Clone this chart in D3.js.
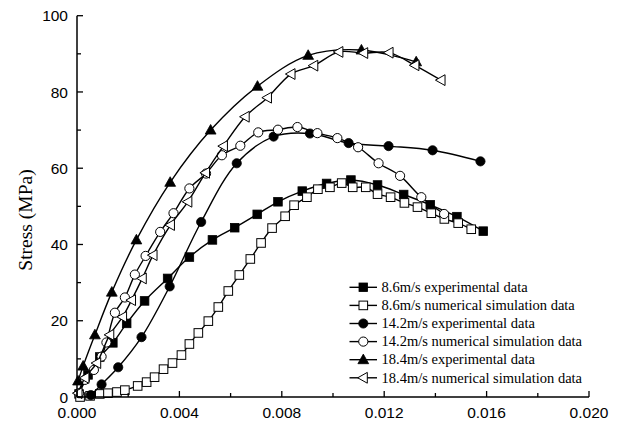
<!DOCTYPE html>
<html>
<head>
<meta charset="utf-8">
<script src="https://cdn.jsdelivr.net/npm/d3@7"></script>
<style>
  body { margin: 0; background: #fff; }
</style>
</head>
<body>
<svg id="chart" width="623" height="423"></svg>
<script>
// strain values (x) and stress values (y, MPa)
const exp86X = [0.00008, 0.00043, 0.00089, 0.00140, 0.00194, 0.00264, 0.00354, 0.00439, 0.00529, 0.00616, 0.00704, 0.00785, 0.00880, 0.00975, 0.01070, 0.01174, 0.01276, 0.01380, 0.01484, 0.01587];
const exp86Y = [0.8, 5.8, 10.5, 14.2, 19.3, 25.2, 31.1, 36.7, 41.2, 44.4, 47.9, 51.2, 54.0, 56.0, 56.9, 55.6, 53.1, 50.4, 47.3, 43.5];

const sim86X = [0.00012, 0.00051, 0.00089, 0.00121, 0.00156, 0.00187, 0.00237, 0.00272, 0.00303, 0.00338, 0.00373, 0.00408, 0.00439, 0.00474, 0.00513, 0.00552, 0.00591, 0.00634, 0.00677, 0.00719, 0.00762, 0.00813, 0.00848, 0.00898, 0.00941, 0.00988, 0.01034, 0.01077, 0.01128, 0.01174, 0.01225, 0.01279, 0.01330, 0.01384, 0.01435, 0.01489, 0.01540];
const sim86Y = [0.0, 0.3, 0.8, 1.0, 1.3, 1.8, 2.9, 3.9, 5.2, 7.3, 8.9, 11.0, 13.9, 16.8, 19.9, 23.6, 27.8, 32.0, 36.2, 40.4, 44.3, 47.4, 50.3, 52.4, 54.5, 55.0, 56.1, 55.0, 55.0, 53.2, 52.4, 50.9, 49.8, 48.2, 46.7, 45.6, 44.0];

const exp142X = [0.00054, 0.00096, 0.00161, 0.00252, 0.00362, 0.00485, 0.00624, 0.00768, 0.00910, 0.01061, 0.01217, 0.01389, 0.01576];
const exp142Y = [0.5, 3.3, 7.8, 15.7, 29.0, 45.9, 61.3, 68.3, 69.1, 66.6, 65.8, 64.7, 61.8];

const sim142X = [0.00008, 0.00031, 0.00066, 0.00096, 0.00115, 0.00148, 0.00187, 0.00226, 0.00268, 0.00325, 0.00377, 0.00439, 0.00504, 0.00566, 0.00638, 0.00708, 0.00785, 0.00861, 0.00939, 0.01017, 0.01098, 0.01178, 0.01262, 0.01345, 0.01434];
const sim142Y = [1.0, 4.5, 7.1, 10.6, 14.3, 22.1, 26.1, 32.1, 37.0, 43.3, 48.2, 54.7, 58.6, 63.4, 65.9, 69.4, 70.1, 70.8, 69.2, 67.9, 65.5, 61.3, 58.0, 52.4, 48.0];

const exp184X = [0.00004, 0.00024, 0.00070, 0.00136, 0.00232, 0.00364, 0.00522, 0.00705, 0.00903, 0.01111, 0.01325];
const exp184Y = [4.2, 8.1, 16.3, 27.5, 41.2, 56.3, 70.0, 81.5, 89.6, 91.0, 87.9];

const sim184X = [0.00004, 0.00031, 0.00077, 0.00128, 0.00178, 0.00213, 0.00255, 0.00297, 0.00365, 0.00433, 0.00502, 0.00572, 0.00657, 0.00744, 0.00836, 0.00925, 0.01023, 0.01120, 0.01219, 0.01320, 0.01422];
const sim184Y = [1.0, 5.0, 8.9, 16.3, 21.0, 25.4, 31.1, 37.2, 45.1, 51.2, 58.8, 65.8, 73.5, 78.5, 84.7, 86.9, 90.5, 90.2, 90.3, 87.0, 83.1];

const legendLabels = [
  "8.6m/s experimental data",
  "8.6m/s numerical simulation data",
  "14.2m/s experimental data",
  "14.2m/s numerical simulation data",
  "18.4m/s experimental data",
  "18.4m/s numerical simulation data"
];
const xTicks = [0, 0.004, 0.008, 0.012, 0.016, 0.020];
const yTicks = [0, 20, 40, 60, 80, 100];

const series = [
  {x: exp86X, y: exp86Y, shape: "square", fill: "#000"},
  {x: sim86X, y: sim86Y, shape: "square", fill: "#fff"},
  {x: exp142X, y: exp142Y, shape: "circle", fill: "#000"},
  {x: sim142X, y: sim142Y, shape: "circle", fill: "#fff"},
  {x: exp184X, y: exp184Y, shape: "triUp", fill: "#000"},
  {x: sim184X, y: sim184Y, shape: "triLeft", fill: "#fff"}
];
series.forEach((s, i) => { s.label = legendLabels[i]; s.pts = s.x.map((v, j) => [v, s.y[j]]); });

const svg = d3.select("#chart");
const x = d3.scaleLinear().domain([0, 0.02]).range([77, 589]);
const y = d3.scaleLinear().domain([0, 100]).range([397, 15.7]);

// marker drawing
function marker(g, shape, fill) {
  let m;
  if (shape === "square") {
    m = g.append("rect").attr("x", -4.3).attr("y", -4.3).attr("width", 8.6).attr("height", 8.6);
  } else if (shape === "circle") {
    m = g.append("circle").attr("r", 4.6);
  } else if (shape === "triUp") {
    m = g.append("path").attr("d", "M0,-5.6L5.4,4L-5.4,4Z");
  } else {
    m = g.append("path").attr("d", "M-5.6,0L4,-5.4L4,5.4Z");
  }
  m.attr("fill", fill).attr("stroke", "#000").attr("stroke-width", fill === "#000" ? 0.8 : 1);
}

const line = d3.line()
  .x(d => x(d[0])).y(d => y(d[1]))
  .curve(d3.curveCatmullRom.alpha(0.5));

const plot = svg.append("g");
series.forEach(s => {
  plot.append("path").datum(s.pts)
    .attr("d", line)
    .attr("fill", "none").attr("stroke", "#000").attr("stroke-width", 1.4);
  plot.selectAll(null).data(s.pts).enter()
    .append("g")
    .attr("transform", d => `translate(${x(d[0])},${y(d[1])})`)
    .each(function () { marker(d3.select(this), s.shape, s.fill); });
});

// axes with inward ticks
const xAxis = svg.append("g").attr("transform", "translate(0,397)");
xAxis.append("line").attr("x1", 77).attr("x2", 589).attr("stroke", "#000").attr("stroke-width", 1.5);
d3.range(0, 0.0201, 0.002).forEach((v, i) => {
  const major = i % 2 === 0;
  xAxis.append("line").attr("x1", x(v)).attr("x2", x(v))
    .attr("y1", 0).attr("y2", major ? -6 : -4)
    .attr("stroke", "#000").attr("stroke-width", 1.3);
});
xAxis.selectAll("text").data(xTicks).enter().append("text")
  .attr("x", d => x(d)).attr("y", 21)
  .attr("text-anchor", "middle")
  .attr("font-family", "Arial, 'Liberation Sans', sans-serif")
  .attr("font-size", 15.5)
  .text(d => d3.format(".3f")(d));

const yAxis = svg.append("g").attr("transform", "translate(77,0)");
yAxis.append("line").attr("y1", y(0)).attr("y2", y(100)).attr("stroke", "#000").attr("stroke-width", 1.5);
d3.range(0, 101, 10).forEach((v, i) => {
  const major = i % 2 === 0;
  yAxis.append("line").attr("y1", y(v)).attr("y2", y(v))
    .attr("x1", 0).attr("x2", major ? 6 : 4)
    .attr("stroke", "#000").attr("stroke-width", 1.3);
});
yAxis.selectAll("text").data(yTicks).enter().append("text")
  .attr("x", -9).attr("y", d => y(d)).attr("dy", "0.36em")
  .attr("text-anchor", "end")
  .attr("font-family", "Arial, 'Liberation Sans', sans-serif")
  .attr("font-size", 15.5)
  .text(d => d);

svg.append("text")
  .attr("transform", "translate(32,220) rotate(-90)")
  .attr("text-anchor", "middle")
  .attr("font-family", "'Times New Roman', 'Liberation Serif', serif")
  .attr("font-size", 19.5)
  .text("Stress (MPa)");

// legend
const legend = svg.append("g");
series.forEach((s, i) => {
  const ly = 287.3 + i * 18.1;
  const row = legend.append("g").attr("transform", `translate(0,${ly})`);
  row.append("line").attr("x1", 349.5).attr("x2", 377).attr("stroke", "#000").attr("stroke-width", 1.4);
  marker(row.append("g").attr("transform", "translate(363.3,0)"), s.shape, s.fill);
  row.append("text").attr("x", 381.5).attr("dy", "0.33em")
    .attr("font-family", "'Times New Roman', 'Liberation Serif', serif")
    .attr("font-size", 14.5)
    .text(s.label);
});
</script>
</body>
</html>
